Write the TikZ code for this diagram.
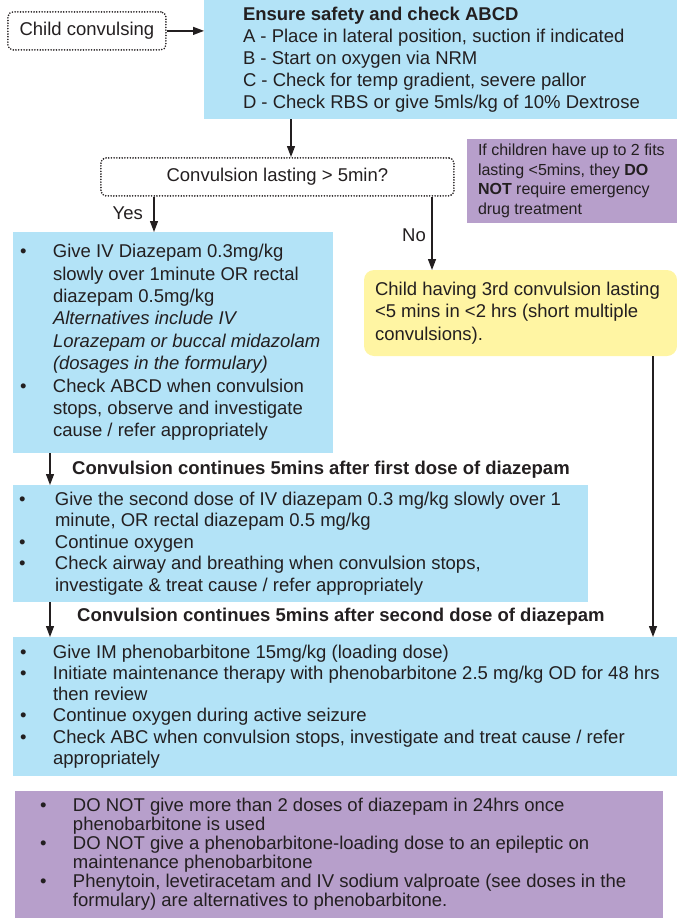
\documentclass[tikz,border=0pt]{standalone}
\usepackage{fontspec}
\setmainfont{Liberation Sans}
\usetikzlibrary{arrows.meta}
\definecolor{txt}{HTML}{231F20}
\definecolor{cblue}{HTML}{B3E3F7}
\definecolor{cpurple}{HTML}{B79FCB}
\definecolor{cyellow}{HTML}{FFF5A3}
\newlength\bulind
\newcommand\bitem[1]{\par\hangindent=\bulind\hangafter=1\noindent\makebox[\bulind][l]{•}#1}
\tikzset{
  box/.style={anchor=north west, inner sep=0pt, outer sep=0pt, text=txt},
  bluebox/.style={box, fill=cblue},
  purplebox/.style={box, fill=cpurple},
  yellowbox/.style={box, fill=cyellow, rounded corners=10pt},
  dotbox/.style={draw=txt, line width=1.8pt, dash pattern=on 0pt off 2.7pt, line cap=round, rounded corners=5pt, inner sep=0pt, anchor=north west, text=txt},
  arr/.style={draw=txt, line width=1.3pt, -{Triangle[length=11pt,width=8pt]}},
  lbl/.style={text=txt, inner sep=0pt}
}
\begin{document}
\begin{tikzpicture}[x=1pt,y=-1pt,font=\fontsize{18.5}{22}\selectfont]
\useasboundingbox (0,0) rectangle (677,918);

\node[dotbox, minimum width=158pt, minimum height=38pt] (child) at (7,11) {Child convulsing};

\node[bluebox, minimum height=119pt] (top) at (204,0) {\parbox{473pt}{\fontsize{18.5}{22}\selectfont\raggedright\leftskip=39pt\parindent=0pt
\textbf{Ensure safety and check ABCD}\\
A - Place in lateral position, suction if indicated\\
B - Start on oxygen via NRM\\
C - Check for temp gradient, severe pallor\\
D - Check RBS or give 5mls/kg of 10\% Dextrose}};

\node[dotbox, minimum width=353pt, minimum height=38pt] (dec) at (100,157) {Convulsion lasting > 5min?};

\node[purplebox, minimum height=84pt] (note) at (467,139) {\parbox{210pt}{\fontsize{16}{19.7}\selectfont\raggedright\leftskip=11pt\parindent=0pt
If children have up to 2 fits\\
lasting <5mins, they \textbf{DO}\\
\textbf{NOT} require emergency\\
drug treatment}};

\node[bluebox, minimum height=221pt] (b2) at (13,232) {\parbox{320pt}{\fontsize{18.5}{22.4}\selectfont\raggedright\leftskip=7pt\parindent=0pt\setlength\bulind{33pt}
\bitem{Give IV Diazepam 0.3mg/kg\newline slowly over 1minute OR rectal\newline diazepam 0.5mg/kg\newline \textit{Alternatives include IV}\newline \textit{Lorazepam or buccal midazolam}\newline \textit{(dosages in the formulary)}}
\bitem{Check ABCD when convulsion\newline stops, observe and investigate\newline cause / refer appropriately}}};

\node[yellowbox, minimum height=86pt] (yel) at (364,270) {\parbox{313pt}{\fontsize{18.5}{22.5}\selectfont\raggedright\leftskip=11pt\parindent=0pt
Child having 3rd convulsion lasting\\
<5 mins in <2 hrs (short multiple\\
convulsions).}};

\node[bluebox, minimum height=117pt] (b3) at (13,485) {\parbox{575pt}{\fontsize{18.5}{21.5}\selectfont\raggedright\leftskip=6pt\parindent=0pt\setlength\bulind{36pt}
\bitem{Give the second dose of IV diazepam 0.3 mg/kg slowly over 1\newline minute, OR rectal diazepam 0.5 mg/kg}
\bitem{Continue oxygen}
\bitem{Check airway and breathing when convulsion stops,\newline investigate \& treat cause / refer appropriately}}};

\node[bluebox, minimum height=139pt] (b4) at (13,637) {\parbox{664pt}{\fontsize{18.5}{21.2}\selectfont\raggedright\leftskip=7pt\parindent=0pt\setlength\bulind{33pt}
\bitem{Give IM phenobarbitone 15mg/kg (loading dose)}
\bitem{Initiate maintenance therapy with phenobarbitone 2.5 mg/kg OD for 48 hrs\newline then review}
\bitem{Continue oxygen during active seizure}
\bitem{Check ABC when convulsion stops, investigate and treat cause / refer\newline appropriately}}};

\node[purplebox, minimum height=127pt] (b5) at (15,791) {\parbox{648pt}{\fontsize{18.5}{19}\selectfont\raggedright\leftskip=25pt\parindent=0pt\setlength\bulind{33pt}
\bitem{DO NOT give more than 2 doses of diazepam in 24hrs once\newline phenobarbitone is used}
\bitem{DO NOT give a phenobarbitone-loading dose to an epileptic on\newline maintenance phenobarbitone}
\bitem{Phenytoin, levetiracetam and IV sodium valproate (see doses in the\newline formulary) are alternatives to phenobarbitone.}}};

\node[lbl, anchor=east] (yes) at (143,213) {Yes};
\node[lbl, anchor=east] (no) at (426,235) {No};
\node[lbl, anchor=west, font=\fontsize{18.5}{22}\selectfont\bfseries] (l1) at (72,470) {Convulsion continues 5mins after first dose of diazepam};
\node[lbl, anchor=west, font=\fontsize{18.5}{22}\selectfont\bfseries] (l2) at (77,617) {Convulsion continues 5mins after second dose of diazepam};

\coordinate (xA) at (291,0);
\coordinate (xY) at (154,0);
\coordinate (xN) at (432,0);
\coordinate (xR) at (653,0);
\coordinate (xL) at (50,0);

\draw[arr] (child.east) -- (top.west |- child.east);
\draw[arr] (top.south -| xA) -- (dec.north -| xA);
\draw[arr] (dec.south -| xY) -- (b2.north -| xY);
\draw[arr] (dec.south -| xN) -- (yel.north -| xN);
\draw[arr] (yel.south -| xR) -- (b4.north -| xR);
\draw[arr] (b2.south -| xL) -- (b3.north -| xL);
\draw[arr] (b3.south -| xL) -- (b4.north -| xL);
\end{tikzpicture}
\end{document}
